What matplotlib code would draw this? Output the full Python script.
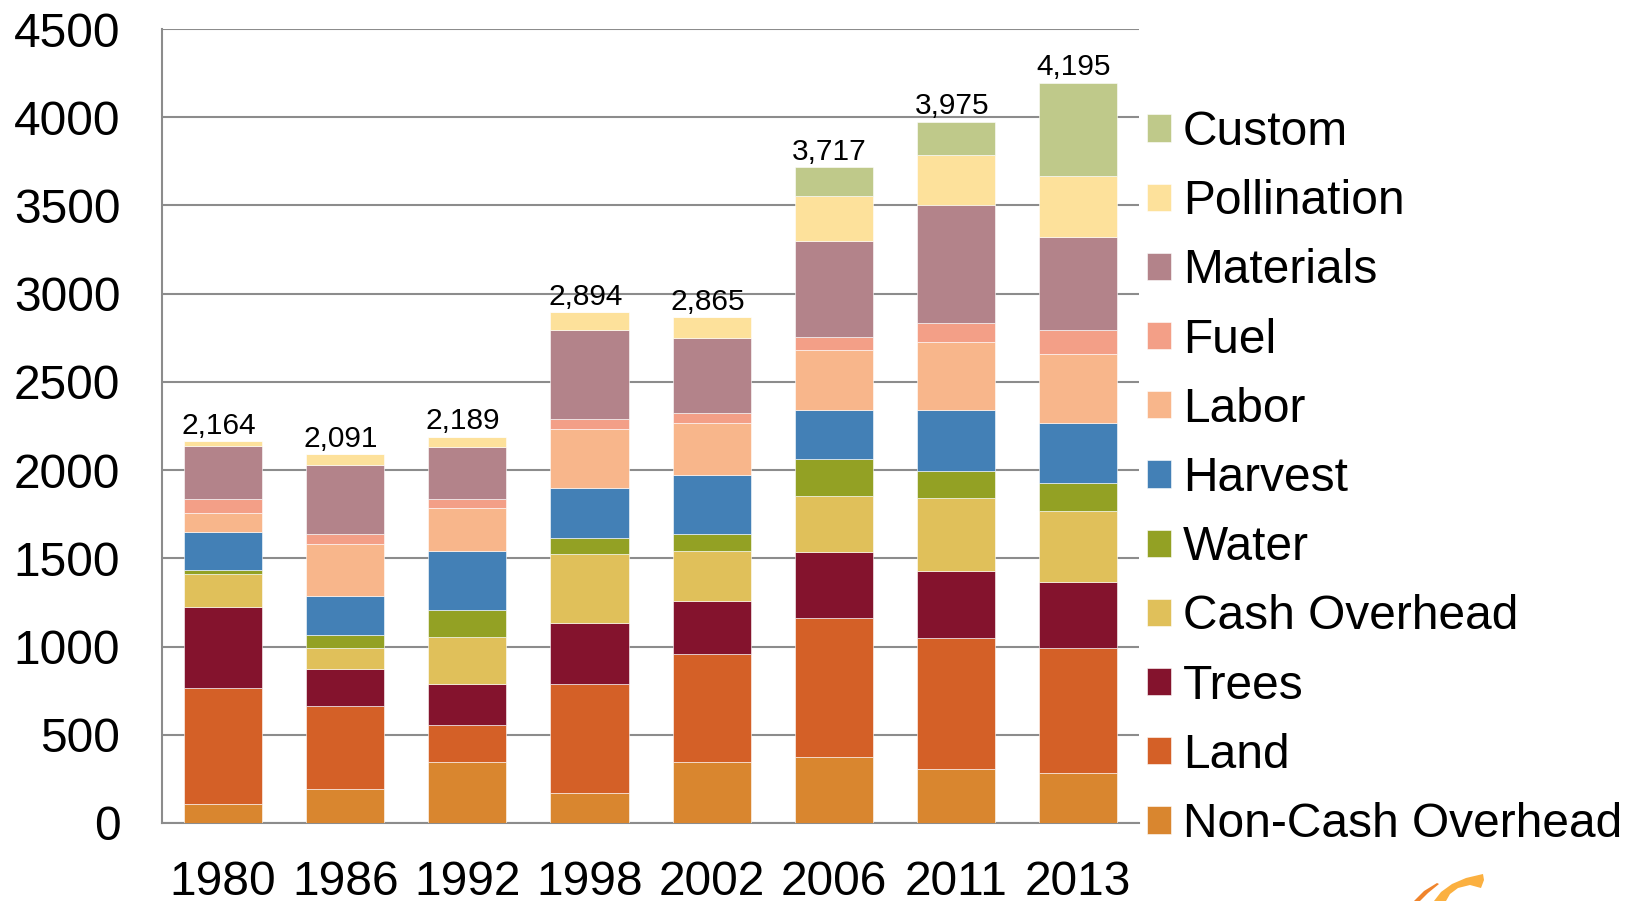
import numpy as np
import matplotlib
matplotlib.use('Agg')
import matplotlib.pyplot as plt
from matplotlib.patches import Polygon

plt.rcParams['font.family'] = ['Liberation Sans', 'DejaVu Sans']

# Cost breakdown per year (stacked bottom to top)
years = ['1980', '1986', '1992', '1998', '2002', '2006', '2011', '2013']
totals = [2164, 2091, 2189, 2894, 2865, 3717, 3975, 4195]

non_cash_overhead = [108, 193, 346, 169, 348, 373, 304, 282]
land = [657, 468, 210, 618, 608, 787, 747, 710]
trees = [458, 212, 234, 348, 301, 375, 375, 375]
cash_overhead = [187, 117, 266, 387, 282, 320, 417, 403]
water = [22, 74, 150, 91, 101, 206, 152, 155]
harvest = [218, 223, 334, 284, 332, 282, 344, 341]
labor = [107, 295, 244, 336, 293, 336, 389, 392]
fuel = [80, 55, 53, 56, 57, 76, 104, 138]
materials = [302, 393, 293, 503, 429, 544, 671, 527]
pollination = [25, 61, 59, 102, 114, 254, 282, 344]
custom = [0, 0, 0, 0, 0, 164, 190, 528]

series = [
    ('Non-Cash Overhead', non_cash_overhead, '#D9862F'),
    ('Land', land, '#D46027'),
    ('Trees', trees, '#84132D'),
    ('Cash Overhead', cash_overhead, '#E0C05A'),
    ('Water', water, '#93A124'),
    ('Harvest', harvest, '#4380B6'),
    ('Labor', labor, '#F8B68B'),
    ('Fuel', fuel, '#F39F87'),
    ('Materials', materials, '#B3838A'),
    ('Pollination', pollination, '#FDE19B'),
    ('Custom', custom, '#BFC98A'),
]

W, H = 1638, 901
fig = plt.figure(figsize=(W / 100, H / 100), dpi=100, facecolor='white')
ax = fig.add_axes([0.0989, 0.0866, 0.5965, 0.8812])

x = np.arange(len(years))
bottom = np.zeros(len(years))
handles = []
for name, vals, col in series:
    vals = np.array(vals, dtype=float)
    b = ax.bar(x, vals, 0.64, bottom=bottom, color=col, edgecolor='white',
               linewidth=0.4, label=name, zorder=3)
    handles.append(b)
    bottom += vals

# total labels above each bar
for xi, tot in zip(x, totals):
    ax.annotate(f'{tot:,}', (xi, tot), xytext=(-3, 1), textcoords='offset points',
                ha='center', va='bottom', fontsize=21.5)

ax.set_xlim(-0.5, len(years) - 0.5)
ax.set_ylim(0, 4500)
ax.set_yticks(np.arange(0, 4501, 500))
ax.set_xticks(x)
ax.set_xticklabels(years)
ax.tick_params(axis='both', length=0, labelsize=34.5)
ax.tick_params(axis='y', pad=30)
ax.tick_params(axis='x', pad=27)
ax.yaxis.grid(True, color='#8C8C8C', lw=1.5, zorder=0)
ax.set_axisbelow(True)
for s in ('top', 'right'):
    ax.spines[s].set_visible(False)
for s in ('left', 'bottom'):
    ax.spines[s].set_color('#8C8C8C')
    ax.spines[s].set_linewidth(1.5)

leg = ax.legend(handles[::-1], [s[0] for s in series][::-1],
                loc='upper left', bbox_to_anchor=(1.008, 0.898), frameon=False,
                fontsize=34.5, handlelength=0.5, handleheight=0.5,
                handletextpad=0.25, labelspacing=0.505, borderpad=0,
                borderaxespad=0)

# little orange swoosh in the bottom corner
def px(pts):
    return [(px_x / W, 1 - px_y / H) for px_x, px_y in pts]

swoosh = [(1434, 901), (1441, 892), (1452, 884), (1466, 878), (1483, 874),
          (1484, 880), (1481, 888), (1470, 885), (1458, 888), (1450, 894),
          (1446, 901)]
fig.patches.append(Polygon(px(swoosh), closed=True, transform=fig.transFigure,
                           facecolor='#FBB040', edgecolor='none'))
streak = [(1414, 901), (1424, 891), (1437, 883), (1439, 884), (1428, 893),
          (1420, 901)]
fig.patches.append(Polygon(px(streak), closed=True, transform=fig.transFigure,
                           facecolor='#F0842C', edgecolor='none'))

fig.savefig('out.png', dpi=100, facecolor='white')
